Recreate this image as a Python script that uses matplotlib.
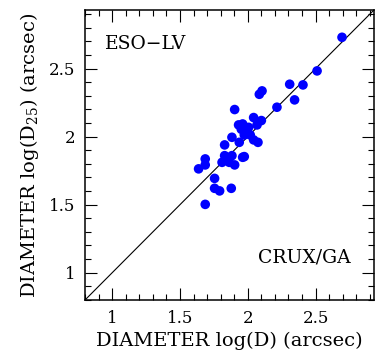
import matplotlib
matplotlib.use("Agg")
import matplotlib.pyplot as plt
from matplotlib.ticker import MultipleLocator

# log D (CRUX/GA) vs log D25 (ESO-LV)
log_d = [2.695, 2.511, 2.309, 2.407, 2.345, 2.215, 2.105, 2.085, 1.903, 2.043,
         2.100, 2.068, 1.932, 1.962, 2.006, 1.952, 1.974, 2.018, 1.883, 2.043,
         2.075, 1.937, 1.829, 1.829, 1.883, 1.686, 1.686, 1.637, 1.755, 1.755,
         1.792, 1.878, 1.686, 1.810, 1.863, 1.903, 1.962, 1.974, 1.990]
log_d25 = [2.730, 2.483, 2.385, 2.380, 2.270, 2.216, 2.336, 2.311, 2.199, 2.140,
           2.118, 2.086, 2.086, 2.093, 2.068, 2.054, 2.012, 2.012, 1.995, 1.976,
           1.958, 1.958, 1.939, 1.860, 1.860, 1.836, 1.792, 1.763, 1.693, 1.620,
           1.601, 1.620, 1.502, 1.811, 1.811, 1.792, 1.848, 1.853, 2.030]
lims = [0.8, 2.93]

plt.rcParams['font.family'] = 'DejaVu Serif'
plt.rcParams['mathtext.fontset'] = 'dejavuserif'

fig = plt.figure(figsize=(3.75, 3.6), dpi=100)
ax = fig.add_axes([0.227, 0.167, 0.770, 0.805])

ax.plot(lims, lims, color='black', linewidth=0.8)
ax.scatter(log_d, log_d25, s=48, color='#0000ff', edgecolors='none', zorder=3)

ax.set_xlim(lims)
ax.set_ylim(lims)
ax.xaxis.set_major_locator(MultipleLocator(0.5))
ax.xaxis.set_minor_locator(MultipleLocator(0.1))
ax.yaxis.set_major_locator(MultipleLocator(0.5))
ax.yaxis.set_minor_locator(MultipleLocator(0.1))
ax.xaxis.set_major_formatter(plt.FuncFormatter(lambda v, p: f"{v:g}"))
ax.yaxis.set_major_formatter(plt.FuncFormatter(lambda v, p: f"{v:g}"))
ax.tick_params(which='both', direction='in', top=True, right=True,
               labelsize=12, width=0.8)
ax.tick_params(which='major', length=8.5, pad=7)
ax.tick_params(which='minor', length=4.5)
for s in ax.spines.values():
    s.set_linewidth(1.1)

ax.text(0.07, 0.865, 'ESO\u2212LV', transform=ax.transAxes, fontsize=13.5)
ax.text(0.6, 0.13, 'CRUX/GA', transform=ax.transAxes, fontsize=13.5)

ax.set_xlabel('DIAMETER log(D) (arcsec)', fontsize=14, labelpad=4)
ax.set_ylabel('DIAMETER log(D$_{25}$) (arcsec)', fontsize=14, labelpad=6)

fig.savefig('out.png', dpi=100)
